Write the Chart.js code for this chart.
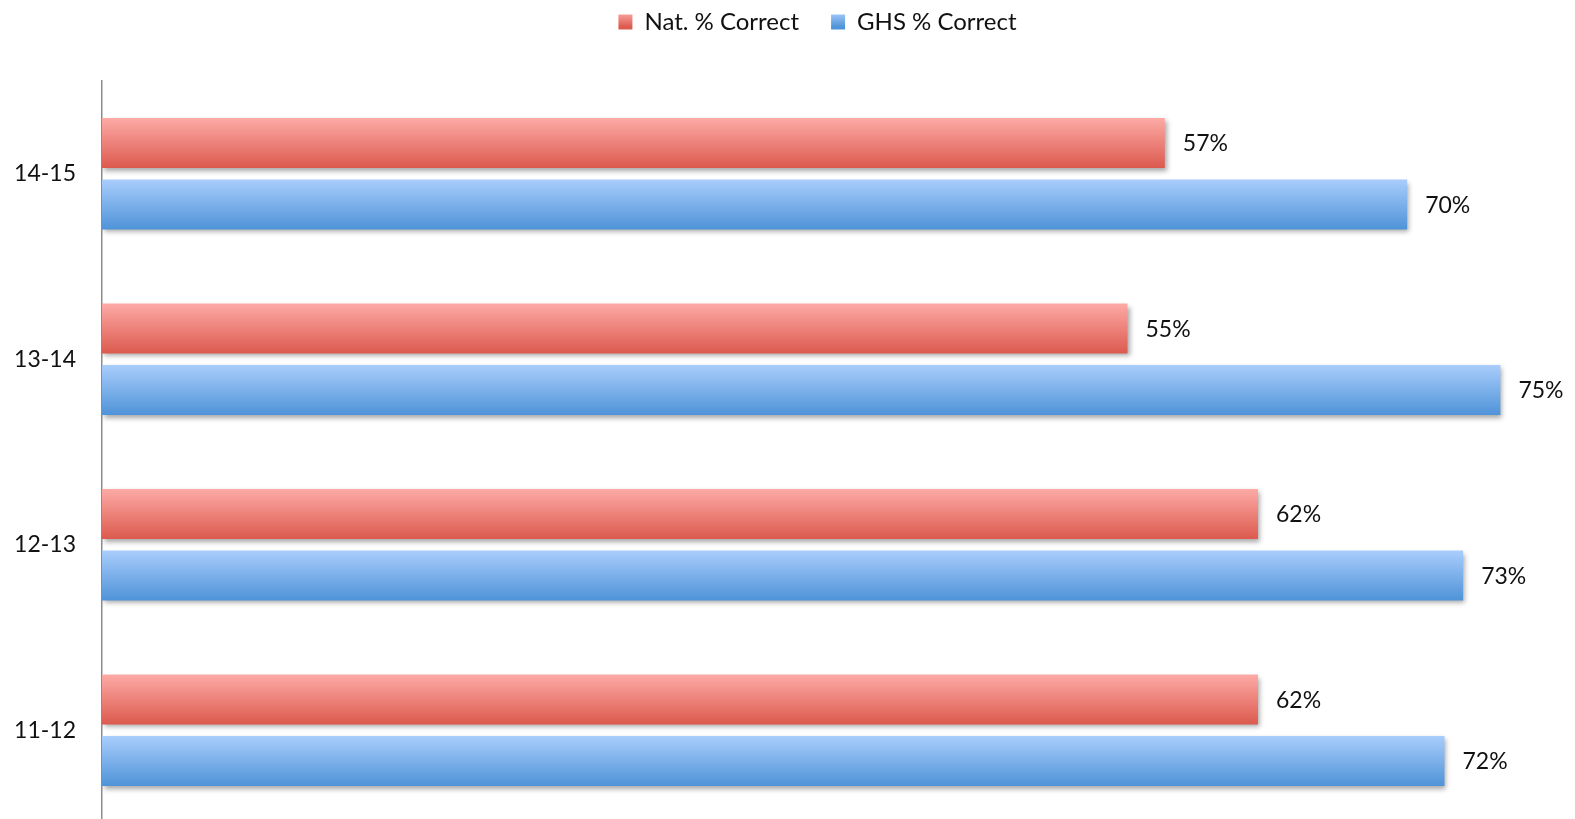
<!DOCTYPE html>
<html lang="en">
<head>
<meta charset="utf-8">
<title>Nat. vs GHS % Correct</title>
<script src="https://cdn.jsdelivr.net/npm/chart.js@4/dist/chart.umd.min.js"></script>
<style>
    html, body { margin: 0; padding: 0; background: #ffffff; }
    canvas { display: block; }
</style>
</head>
<body>
<canvas id="graficoAcertos" width="1575" height="819"></canvas>
<script>
// =============================
// DADOS
// =============================

const categorias = ['14-15', '13-14', '12-13', '11-12'];
const nomesSeries = ['Nat. % Correct', 'GHS % Correct'];
const valoresNat = [57, 55, 62, 62];
const valoresGHS = [70, 75, 73, 72];
const escalaX = { min: 0, max: 79 };


// =============================
// ESTILO
// =============================

const FONTE = 'Lato, "Open Sans", sans-serif';
const CAT_PCT = 0.663;
const BAR_PCT = 0.81;
const PAD_LEGENDA = 32;
const FUNDO_AREA = 823;   // a área do gráfico passa um pouco da borda inferior
const CORES = [
    { topo: '#fdaaa6', base: '#dc5a4e' },
    { topo: '#a9cdfc', base: '#4f93d8' }
];

function gradienteBarra(ctx) {
    const cor = CORES[ctx.datasetIndex];
    const chart = ctx.chart;
    const y = chart.scales.y;

    if (!y || ctx.type !== 'data') {
        return cor.base;
    }

    const faixa = y.height / categorias.length;
    const slot = faixa * CAT_PCT / 2;
    const centro = y.getPixelForValue(ctx.dataIndex) + (ctx.datasetIndex - 0.5) * slot;
    const meia = slot * BAR_PCT / 2;

    const g = chart.ctx.createLinearGradient(0, centro - meia, 0, centro + meia);
    g.addColorStop(0, cor.topo);
    g.addColorStop(1, cor.base);
    return g;
}


// =============================
// PLUGINS
// =============================

// legenda ocupa o topo, área do gráfico estendida até embaixo
const ajusteLayout = {
    id: 'ajusteLayout',
    afterInit(chart) {
        const fitOriginal = chart.legend.fit;
        chart.legend.fit = function () {
            fitOriginal.call(this);
            this.height = 81;
        };
    },
    afterLayout(chart) {
        chart.legend.left += 60;
        chart.legend.top -= PAD_LEGENDA - 10;

        const area = chart.chartArea;
        area.bottom = FUNDO_AREA;
        area.height = area.bottom - area.top;

        const y = chart.scales.y;
        y.bottom = FUNDO_AREA;
        y.height = y.bottom - y.top;
        y.configure();
    }
};

const sombraBarras = {
    id: 'sombraBarras',
    beforeDatasetsDraw(chart) {
        const c = chart.ctx;
        c.save();
        c.shadowColor = 'rgba(0, 0, 0, 0.35)';
        c.shadowBlur = 5;
        c.shadowOffsetX = 2;
        c.shadowOffsetY = 3;
    },
    afterDatasetsDraw(chart) {
        chart.ctx.restore();
    }
};

const rotulosValores = {
    id: 'rotulosValores',
    afterDatasetsDraw(chart) {
        const c = chart.ctx;
        c.save();
        c.font = '23px ' + FONTE;
        c.fillStyle = '#111111';
        c.textAlign = 'left';
        c.textBaseline = 'middle';

        chart.data.datasets.forEach((ds, i) => {
            chart.getDatasetMeta(i).data.forEach((barra, j) => {
                c.fillText(ds.data[j] + '%', barra.x + 18, barra.y + 1);
            });
        });

        c.restore();
    }
};


// =============================
// GRÁFICO
// =============================

const ctx = document.getElementById('graficoAcertos');

new Chart(ctx, {
    type: 'bar',
    data: {
        labels: categorias,
        datasets: [
            { label: nomesSeries[0], data: valoresNat, backgroundColor: gradienteBarra },
            { label: nomesSeries[1], data: valoresGHS, backgroundColor: gradienteBarra }
        ]
    },
    options: {
        indexAxis: 'y',
        responsive: false,
        animation: false,
        datasets: {
            bar: {
                categoryPercentage: CAT_PCT,
                barPercentage: BAR_PCT,
                borderWidth: 0
            }
        },
        plugins: {
            legend: {
                position: 'top',
                labels: {
                    boxWidth: 14,
                    boxHeight: 15,
                    padding: PAD_LEGENDA,
                    color: '#111111',
                    font: { family: FONTE, size: 24 },
                    generateLabels(chart) {
                        return nomesSeries.map((nome, i) => {
                            const g = chart.ctx.createLinearGradient(0, 12, 0, 27);
                            g.addColorStop(0, CORES[i].topo);
                            g.addColorStop(1, CORES[i].base);
                            return {
                                text: nome,
                                fillStyle: g,
                                strokeStyle: 'rgba(0,0,0,0)',
                                lineWidth: 0,
                                fontColor: '#111111',
                                datasetIndex: i
                            };
                        });
                    }
                }
            },
            tooltip: { enabled: false }
        },
        scales: {
            x: {
                min: escalaX.min,
                max: escalaX.max,
                display: false
            },
            y: {
                afterFit(scale) {
                    scale.width = 102;
                    scale.paddingTop = 0;
                    scale.paddingBottom = 0;
                },
                grid: { display: false, drawTicks: false },
                border: { display: true, color: '#8c8c8c', width: 1.5 },
                ticks: {
                    padding: 26,
                    color: '#111111',
                    font: { family: FONTE, size: 23 }
                }
            }
        }
    },
    plugins: [ajusteLayout, sombraBarras, rotulosValores]
});
</script>
</body>
</html>
